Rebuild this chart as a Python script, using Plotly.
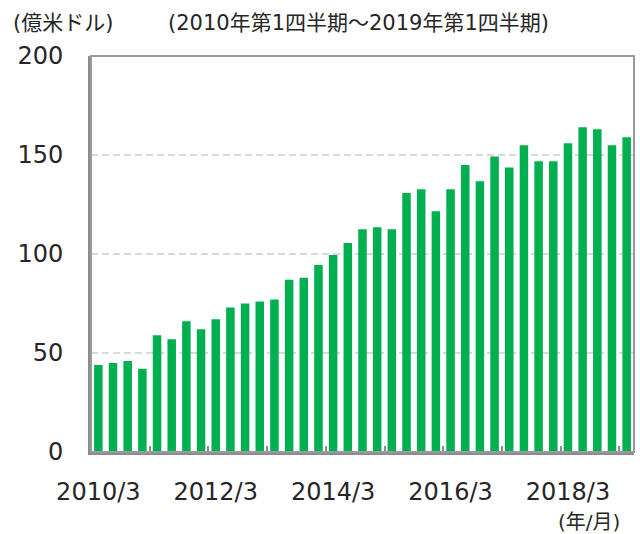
import plotly.graph_objects as go

quarters = [f"{y}/{m}" for y in range(2010, 2019) for m in (3, 6, 9, 12)] + ["2019/3"]
values = [44, 45, 46, 42, 59, 57, 66, 62, 67, 73, 75, 76, 77, 87, 88, 94.5,
          99.5, 105.5, 112.5, 113.5, 112.5, 130.8, 132.7, 121.6, 132.7, 144.9,
          136.7, 149.2, 143.7, 154.9, 146.9, 146.9, 155.9, 164, 163, 154.9, 159]
label_ticks = ["2010/3", "2012/3", "2014/3", "2016/3", "2018/3"]
y_ticks = [0, 50, 100, 150, 200]
year_boundaries = [3.5, 7.5, 11.5, 15.5, 19.5, 23.5, 27.5, 31.5, 35.5]

FONT = "DejaVu Sans, Noto Sans CJK JP"
GREEN = "#00B050"
AXIS = "#8C8C8C"

L, R, T, B = 91, 6, 56, 82
PW, PH = 640 - L - R, 534 - T - B

fig = go.Figure()
fig.add_trace(go.Bar(x=quarters, y=values, marker=dict(color=GREEN, line=dict(width=0)),
                     showlegend=False))
# invisible trace on a numeric overlay axis to carry the year-boundary ticks
fig.add_trace(go.Scatter(x=[-0.5, len(quarters) - 0.5], y=[0, 0], xaxis="x2",
                         mode="markers", marker=dict(opacity=0), showlegend=False,
                         hoverinfo="skip"))

fig.update_layout(
    width=640, height=534,
    margin=dict(l=L, r=R, t=T, b=B),
    paper_bgcolor="white", plot_bgcolor="white",
    bargap=0.42,
    font=dict(family=FONT, color="#262626", size=24),
    xaxis=dict(type="category", tickvals=label_ticks, ticktext=label_ticks,
               ticks="", showgrid=False, showline=True, linecolor=AXIS, linewidth=3,
               ticklabelstandoff=16, tickfont=dict(size=24),
               range=[-0.5, len(quarters) - 0.5]),
    xaxis2=dict(overlaying="x", range=[-0.5, len(quarters) - 0.5], tickvals=year_boundaries,
                ticks="inside", ticklen=6, tickwidth=2, tickcolor=AXIS,
                showticklabels=False, showgrid=False, zeroline=False, side="bottom"),
    yaxis=dict(range=[0, 200], tickvals=y_ticks, showgrid=True, gridcolor="#D9D9D9",
               griddash="7px,4px", gridwidth=2, zeroline=False, showline=True,
               linecolor=AXIS, linewidth=3, ticks="", ticklabelstandoff=20,
               tickfont=dict(size=24)),
    shapes=[dict(type="rect", xref="paper", yref="paper", x0=0, x1=1, y0=0, y1=1,
                 line=dict(color="#9A9A9A", width=2), layer="above")],
    annotations=[
        dict(text="(億米ドル)", xref="paper", yref="paper", x=(11 - L) / PW,
             y=1 + (T - 23) / PH, xanchor="left", yanchor="middle", showarrow=False,
             font=dict(size=21)),
        dict(text="(2010年第1四半期～2019年第1四半期)", xref="paper", yref="paper",
             x=(166 - L) / PW, y=1 + (T - 23) / PH, xanchor="left", yanchor="middle",
             showarrow=False, font=dict(size=21)),
        dict(text="(年/月)", xref="paper", yref="paper", x=(622 - L) / PW,
             y=-(522 - (T + PH)) / PH, xanchor="right", yanchor="middle",
             showarrow=False, font=dict(size=20)),
    ],
)

fig.write_html("out.html", config={"displayModeBar": False},
               post_script="document.body.style.margin='0';document.body.style.padding='0';")
